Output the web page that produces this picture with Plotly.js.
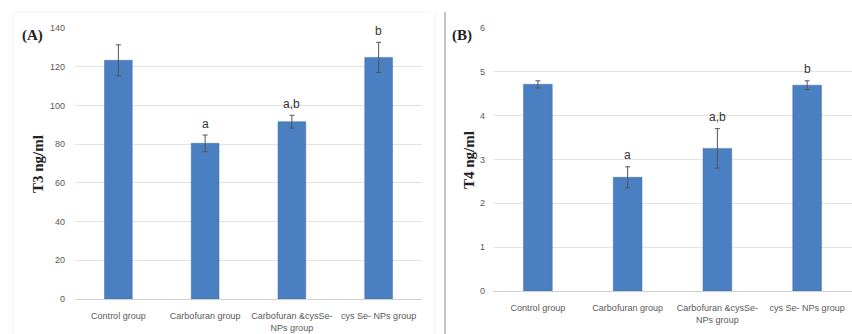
<!DOCTYPE html>
<html>
<head>
<meta charset="utf-8">
<script src="https://cdn.plot.ly/plotly-3.0.1.min.js"></script>
<style>html,body{margin:0;padding:0;background:#fff;}#chart{width:852px;height:334px;}</style>
</head>
<body>
<div id="chart"></div>
<script>
const categories = ["Control group", "Carbofuran group", "Carbofuran &cysSe-<br>NPs group", "cys Se- NPs group"];
const t3Values = [123.3, 80.4, 91.6, 124.8];
const t3Errors = [8.0, 4.3, 3.3, 7.8];
const t3Letters = ["", "a", "a,b", "b"];
const t4Values = [4.71, 2.59, 3.25, 4.69];
const t4Errors = [0.08, 0.24, 0.45, 0.10];
const t4Letters = ["", "a", "a,b", "b"];
const t3Ticks = [0, 20, 40, 60, 80, 100, 120, 140];
const t4Ticks = [0, 1, 2, 3, 4, 5, 6];

const barColor = "#4a7fc1";
const tickFont = {family: "Liberation Sans Narrow, Liberation Sans, sans-serif", size: 9, color: "#595959"};
const titleFont = {family: "Liberation Serif, serif", size: 15, color: "#222"};

function barTrace(vals, errs, xa, ya) {
  return {
    type: "bar", x: categories, y: vals, xaxis: xa, yaxis: ya,
    marker: {color: barColor, line: {color: "#3f6fae", width: 0.5}},
    error_y: {type: "data", array: errs, visible: true, color: "#555", thickness: 1, width: 2.5},
    hoverinfo: "none", showlegend: false
  };
}

const annotations = [];
function letters(lbls, vals, errs, xr, yr, shift) {
  lbls.forEach((l, i) => {
    if (!l) return;
    annotations.push({xref: xr, yref: yr, x: categories[i], y: vals[i] + errs[i], text: l,
      showarrow: false, yanchor: "bottom", yshift: shift,
      font: {family: "Liberation Sans Narrow, Liberation Sans, sans-serif", size: 12, color: "#333"}});
  });
}
letters(t3Letters, t3Values, t3Errors, "x", "y", 2);
letters(t4Letters, t4Values, t4Errors, "x2", "y2", 3);

annotations.push({xref: "paper", yref: "paper", x: 20/852, y: 1 - 35/334, xanchor: "left", yanchor: "middle",
  text: "<b>(A)</b>", showarrow: false, font: {family: "Liberation Serif, serif", size: 15, color: "#222"}});
annotations.push({xref: "paper", yref: "paper", x: 450/852, y: 1 - 35/334, xanchor: "left", yanchor: "middle",
  text: "<b>(B)</b>", showarrow: false, font: {family: "Liberation Serif, serif", size: 15, color: "#222"}});
annotations.push({xref: "paper", yref: "paper", x: 38/852, y: 1 - 164/334, xanchor: "center", yanchor: "middle",
  text: "<b>T3 ng/ml</b>", textangle: -90, showarrow: false, font: titleFont});
annotations.push({xref: "paper", yref: "paper", x: 469/852, y: 1 - 160/334, xanchor: "center", yanchor: "middle",
  text: "<b>T4 ng/ml</b>", textangle: -90, showarrow: false, font: titleFont});

const layout = {
  width: 852, height: 334,
  margin: {l: 0, r: 0, t: 0, b: 0},
  paper_bgcolor: "#fff", plot_bgcolor: "#fff",
  bargap: 0.68,
  xaxis: {domain: [75/852, 422/852], anchor: "y", tickfont: tickFont, showgrid: false, zeroline: false,
    showline: true, linecolor: "#d0d0d0", linewidth: 1, ticks: "", ticklabelstandoff: 8},
  yaxis: {domain: [1 - 299/334, 1 - 28/334], anchor: "x", range: [0, 140], tickvals: t3Ticks,
    tickfont: tickFont, gridcolor: "#e3e3e3", zeroline: false, showline: false, ticks: "", ticklabelstandoff: 9},
  xaxis2: {domain: [493/852, 852/852], anchor: "y2", tickfont: tickFont, showgrid: false, zeroline: false,
    showline: true, linecolor: "#d0d0d0", linewidth: 1, ticks: "", ticklabelstandoff: 8},
  yaxis2: {domain: [1 - 291/334, 1 - 27.7/334], anchor: "x2", range: [0, 6], tickvals: t4Ticks,
    tickfont: tickFont, gridcolor: "#e3e3e3", zeroline: false, showline: false, ticks: "", ticklabelstandoff: 7},
  annotations: annotations,
  shapes: [
    {type: "line", xref: "paper", yref: "paper", x0: 445/852, x1: 445/852, y0: 0, y1: 1 - 12/334,
      line: {color: "#c4c4c4", width: 2}},
    {type: "line", xref: "paper", yref: "paper", x0: 435/852, x1: 435/852, y0: 0, y1: 1 - 12/334,
      line: {color: "#f0f0f0", width: 1}},
    {type: "line", xref: "paper", yref: "paper", x0: 13/852, x1: 430/852, y0: 1 - 12/334, y1: 1 - 12/334,
      line: {color: "#f2f2f2", width: 1}},
    {type: "line", xref: "paper", yref: "paper", x0: 13/852, x1: 13/852, y0: 0, y1: 1 - 12/334,
      line: {color: "#f2f2f2", width: 1}}
  ]
};

Plotly.newPlot("chart", [barTrace(t3Values, t3Errors, "x", "y"), barTrace(t4Values, t4Errors, "x2", "y2")], layout,
  {staticPlot: true, displayModeBar: false});
</script>
</body>
</html>
